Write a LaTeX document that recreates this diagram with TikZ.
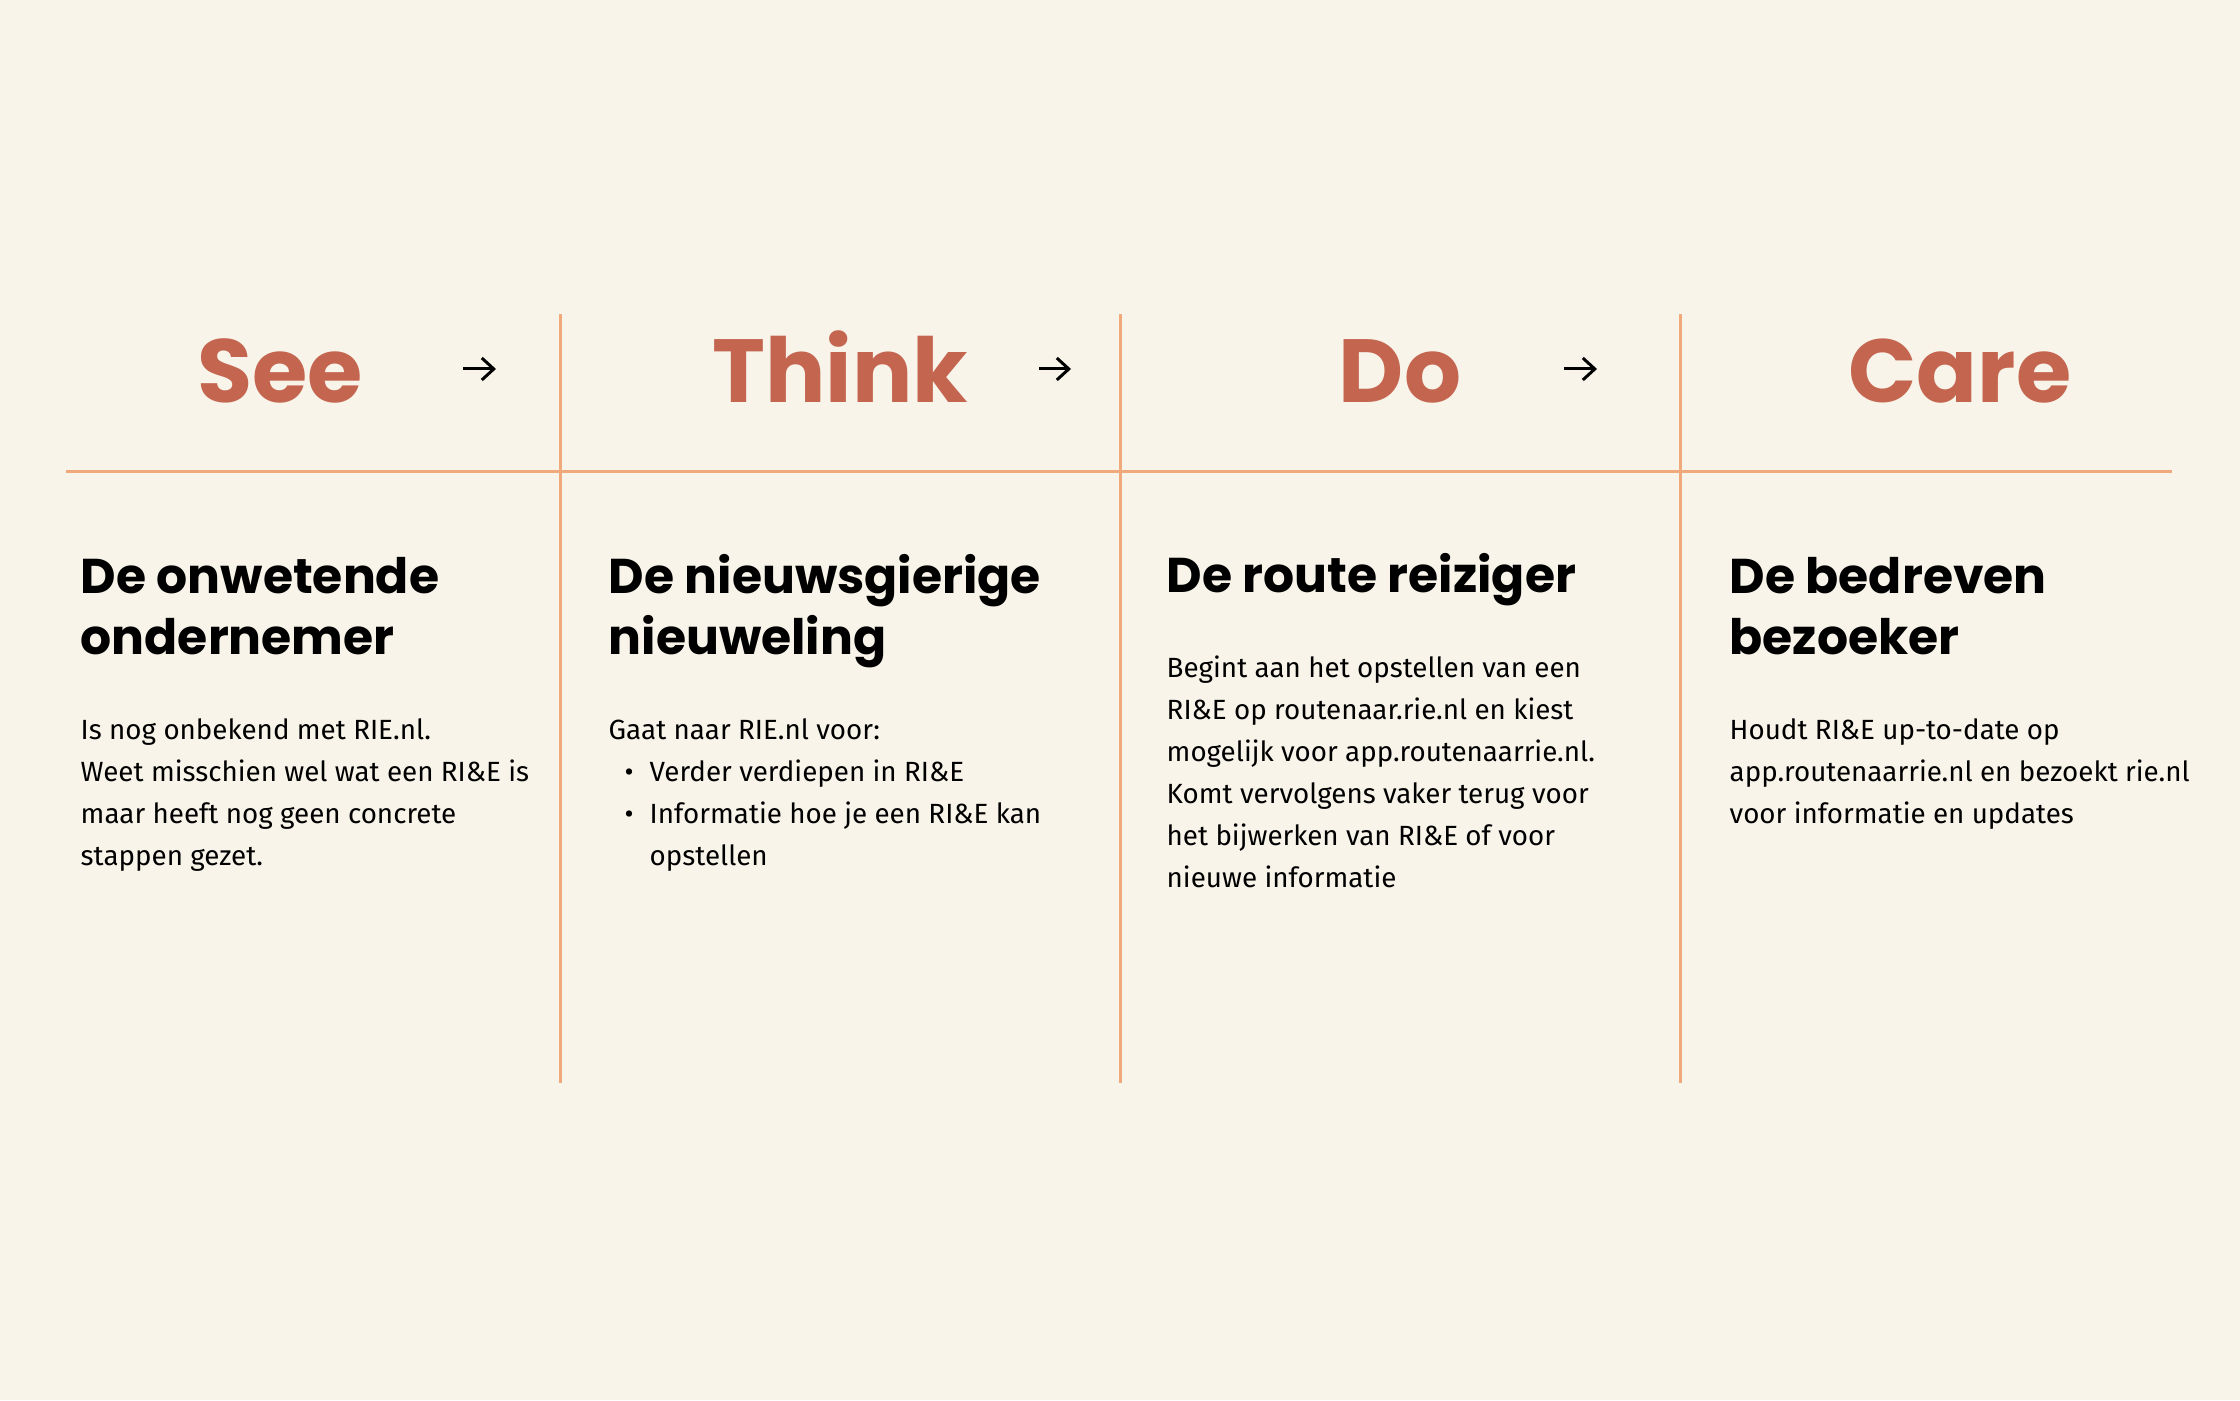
\documentclass[tikz,border=0pt]{standalone}
\usepackage{fontspec}
\setmainfont{Fira Sans}
\newfontfamily\popfont{Poppins}
\usetikzlibrary{arrows.meta}
\definecolor{bg}{HTML}{F8F4EA}
\definecolor{rust}{HTML}{C4654F}
\definecolor{peach}{HTML}{F0A97C}
\begin{document}
\begin{tikzpicture}[
    title/.style={font=\popfont\bfseries\fontsize{25.5}{30}\selectfont, text=rust, anchor=base, inner sep=0pt},
    heading/.style={font=\popfont\bfseries\fontsize{13.9}{17.6}\selectfont, align=left, anchor=base west, inner sep=0pt},
    body/.style={font=\fontsize{7.9}{11.95}\selectfont, align=left, anchor=base west, inner sep=0pt},
    divider/.style={draw=peach, line width=0.85pt},
    nextarrow/.style={-{Straight Barb[length=1.2mm, width=2.2mm]}, line width=0.85pt}
]
    % Background
    \fill[bg] (0,0) rectangle (22.4,14);
    \useasboundingbox (0,0) rectangle (22.4,14);

    % Grid lines
    \draw[divider] (0.66,9.28) -- (21.72,9.28);
    \draw[divider] (5.6,10.86) -- (5.6,3.17);
    \draw[divider] (11.2,10.86) -- (11.2,3.17);
    \draw[divider] (16.8,10.86) -- (16.8,3.17);

    % Stages
    \node[title] (see) at (2.8,9.97) {See};
    \node[title] (think) at (8.4,9.97) {Think};
    \node[title] (do) at (14,9.97) {Do};
    \node[title] (care) at (19.6,9.97) {Care};

    \coordinate (seeA) at (4.63,10.31);
    \coordinate (seeB) at (4.96,10.31);
    \draw[nextarrow] (seeA) -- (seeB);
    \coordinate (thinkA) at (10.39,10.31);
    \coordinate (thinkB) at (10.71,10.31);
    \draw[nextarrow] (thinkA) -- (thinkB);
    \coordinate (doA) at (15.64,10.31);
    \coordinate (doB) at (15.97,10.31);
    \draw[nextarrow] (doA) -- (doB);

    % Personas (base = last line)
    \node[heading] (seehead) at (0.8,7.45) {De onwetende\\ondernemer};
    \node[heading] (thinkhead) at (6.08,7.45) {De nieuwsgierige\\nieuweling};
    \node[heading] (dohead) at (11.66,8.07) {De route reiziger};
    \node[heading] (carehead) at (17.29,7.45) {De bedreven\\bezoeker};

    % Descriptions
    \node[body] (seetext) at (0.8,5.34) {Is nog onbekend met RIE.nl.\\Weet misschien wel wat een RI\&E is\\maar heeft nog geen concrete\\stappen gezet.};
    \node[body] (thinktext) at (6.08,5.34) {Gaat naar RIE.nl voor:\\\makebox[0.41cm][c]{•}Verder verdiepen in RI\&E\\\makebox[0.41cm][c]{•}Informatie hoe je een RI\&E kan\\\hspace*{0.41cm}opstellen};
    \node[body] (dotext) at (11.66,5.12) {Begint aan het opstellen van een\\RI\&E op routenaar.rie.nl en kiest\\mogelijk voor app.routenaarrie.nl.\\Komt vervolgens vaker terug voor\\het bijwerken van RI\&E of voor\\nieuwe informatie};
    \node[body] (caretext) at (17.29,5.76) {Houdt RI\&E up-to-date op\\app.routenaarrie.nl en bezoekt rie.nl\\voor informatie en updates};
\end{tikzpicture}
\end{document}
